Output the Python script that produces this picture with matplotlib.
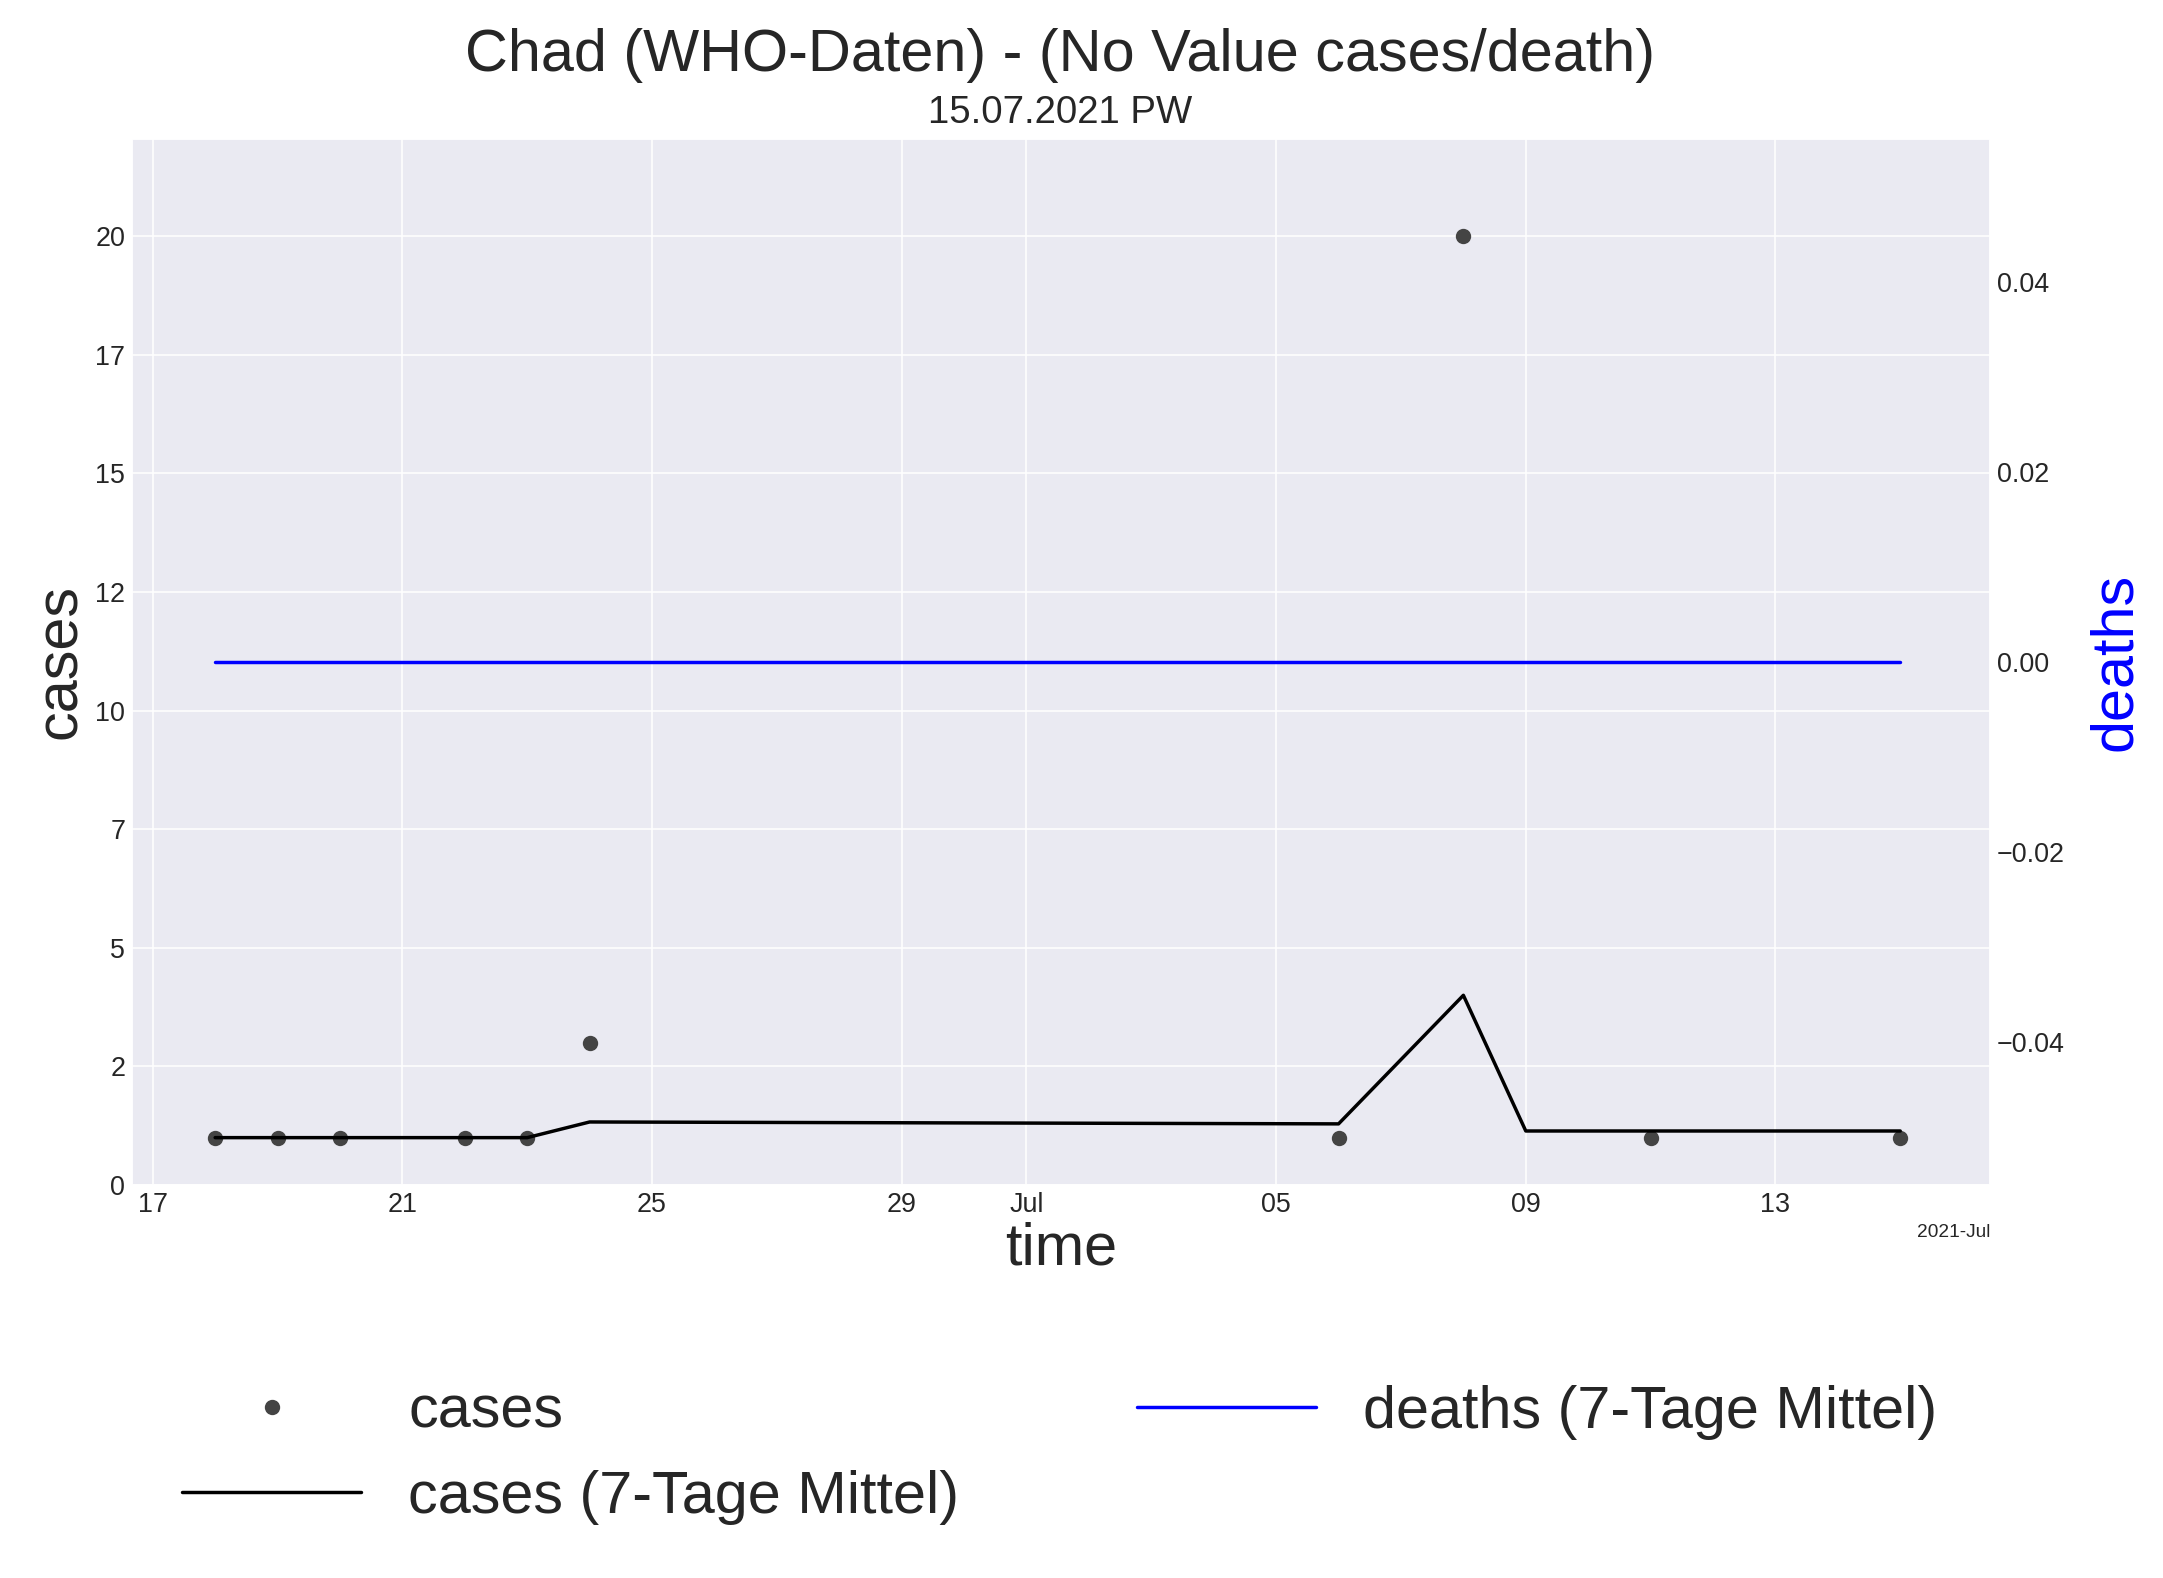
import numpy as np
import pandas as pd
import matplotlib
matplotlib.use('Agg')
from matplotlib import pyplot
import matplotlib.dates as mdates
import matplotlib.ticker as mticker
import seaborn as sns

sns.set_style('darkgrid')
pyplot.rcParams['font.family'] = ['Arial', 'Liberation Sans', 'DejaVu Sans']

# daily cases (only days with a report)
case_dates  = pd.to_datetime(['2021-06-18', '2021-06-19', '2021-06-20', '2021-06-22', '2021-06-23',
                              '2021-06-24', '2021-07-06', '2021-07-08', '2021-07-11', '2021-07-15'])
case_values = [1, 1, 1, 1, 1, 3, 1, 20, 1, 1]
# 7-day mean of cases
mean_dates  = pd.to_datetime(['2021-06-18', '2021-06-19', '2021-06-20', '2021-06-22', '2021-06-23',
                              '2021-06-24', '2021-07-06', '2021-07-08', '2021-07-09', '2021-07-15'])
mean_values = [1, 1, 1, 1, 1, 1.33, 1.29, 4.0, 1.14, 1.14]
# 7-day mean of deaths
death_dates  = pd.to_datetime(['2021-06-18', '2021-07-15'])
death_values = [0, 0]

fig = pyplot.figure(figsize=(2163/138, 1578/138), dpi=138)
ax = fig.add_axes([0.061, 0.249, 0.859, 0.663])
ax2 = ax.twinx()
ax2.grid(False)

l1, = ax.plot(case_dates, case_values, 'o', color='#444444', ms=7, label='cases')
l2, = ax.plot(mean_dates, mean_values, '-', color='k', lw=1.8, label='cases (7-Tage Mittel)')
l3, = ax2.plot(death_dates, death_values, '-', color='blue', lw=1.8, label='deaths (7-Tage Mittel)')

ax.set_ylim(0, 22.05)
ax.yaxis.set_major_locator(mticker.MultipleLocator(2.5))
ax.yaxis.set_major_formatter(mticker.FormatStrFormatter('%d'))
ax.set_xlim(pd.Timestamp('2021-06-16 16:00'), pd.Timestamp('2021-07-16 10:30'))
loc = mdates.DayLocator(bymonthday=[1, 5, 9, 13, 17, 21, 25, 29])
ax.xaxis.set_major_locator(loc)
fmt = mdates.ConciseDateFormatter(loc)
ax.xaxis.set_major_formatter(fmt)
ax.tick_params(labelsize=14, length=0)
ax2.tick_params(labelsize=14, length=0)
ax.set_xlabel('time', fontsize=31, labelpad=2)
ax.set_ylabel('cases', fontsize=31)
ax2.set_ylabel('deaths', fontsize=31, color='blue', labelpad=12)

fig.text(0.49, 0.955, 'Chad (WHO-Daten) - (No Value cases/death)', ha='center', fontsize=31)
fig.text(0.49, 0.922, '15.07.2021 PW', ha='center', fontsize=20)

fig.legend(handles=[l1, l2, l3], loc='lower center', bbox_to_anchor=(0.49, 0.0), ncol=2,
           fontsize=31, frameon=False, columnspacing=3, handlelength=3, labelspacing=0.5)

fig.savefig('out.png', dpi=138)
